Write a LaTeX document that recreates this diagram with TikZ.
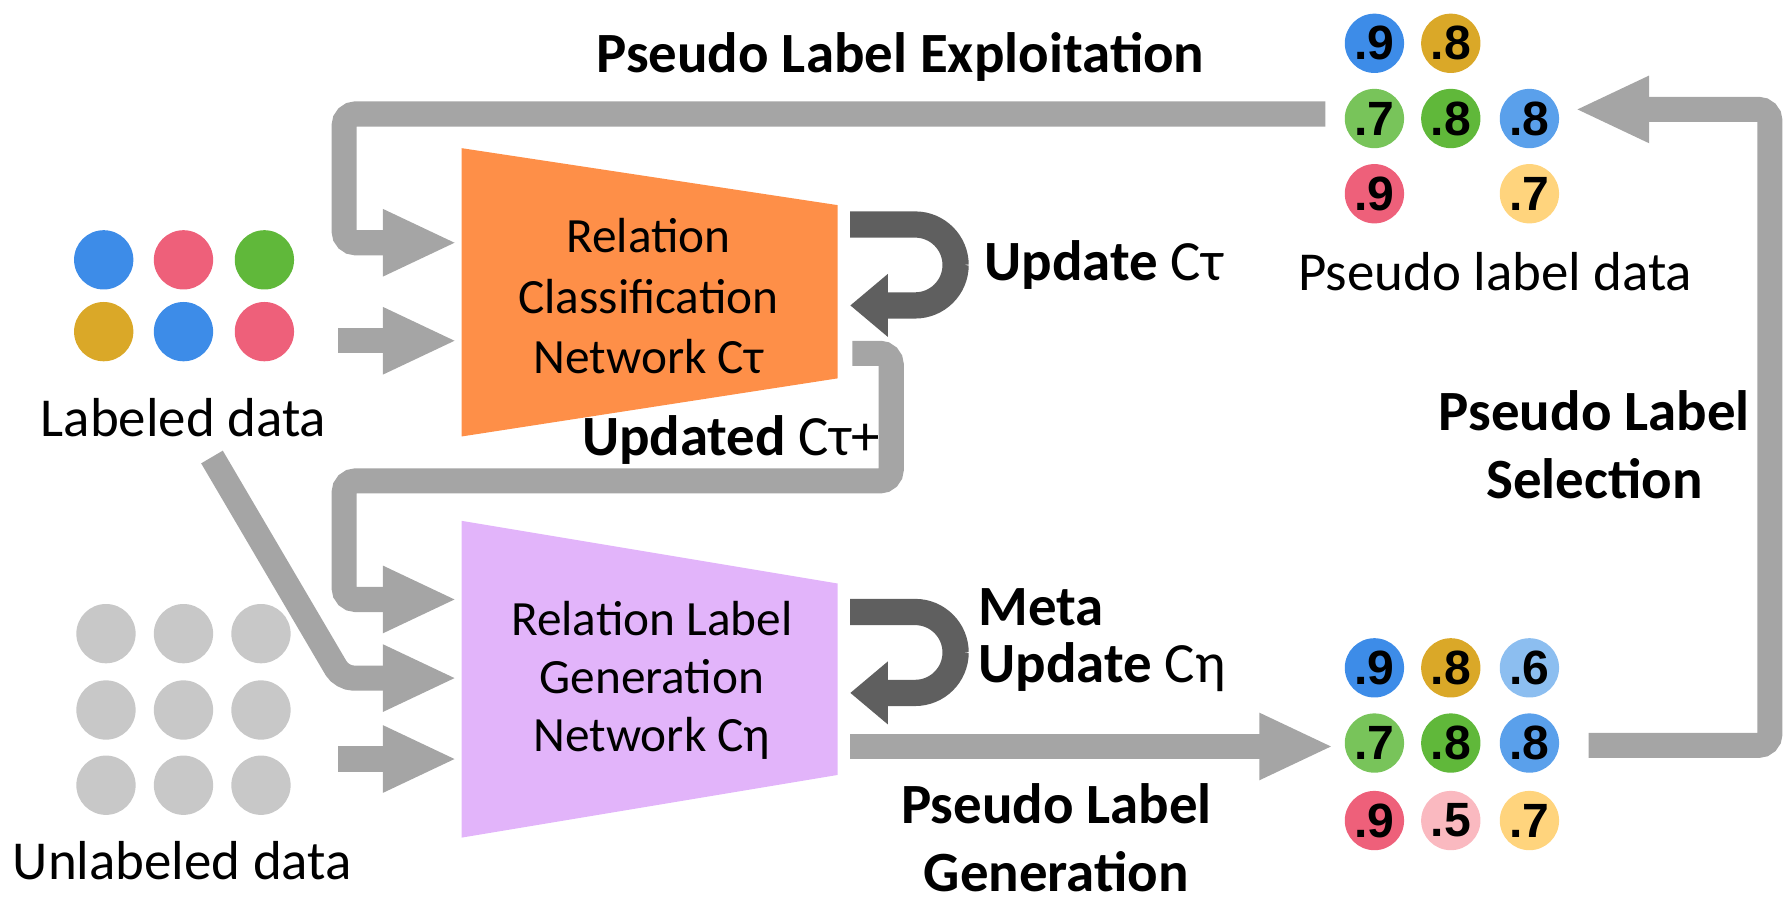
\documentclass[tikz,border=0pt]{standalone}
\usepackage{fontspec}
\setmainfont{Carlito}
\newfontfamily\numfont{Liberation Sans}
\usetikzlibrary{arrows.meta}

\definecolor{cblue}{RGB}{61,140,232}
\definecolor{cred}{RGB}{238,96,122}
\definecolor{cgreen}{RGB}{96,184,58}
\definecolor{cgold}{RGB}{218,168,40}
\definecolor{lgreen}{RGB}{120,196,90}
\definecolor{lblue}{RGB}{90,160,235}
\definecolor{pblue}{RGB}{140,190,240}
\definecolor{lpink}{RGB}{250,185,192}
\definecolor{lyellow}{RGB}{255,212,125}
\definecolor{ugray}{RGB}{200,200,200}
\definecolor{flowgray}{RGB}{165,165,165}
\definecolor{loopgray}{RGB}{95,95,95}
\definecolor{rcnorange}{RGB}{254,143,72}
\definecolor{rlgnpurple}{RGB}{226,180,250}

\tikzset{
  ball/.style={circle, minimum size=0.52cm, inner sep=0pt},
  num/.style={ball, font=\numfont\bfseries\fontsize{12}{12}\selectfont},
  flow/.style={draw=flowgray, line width=0.22cm, rounded corners=0.1cm,
    -{Triangle[length=0.65cm, width=0.54cm]}},
  updloop/.style={draw=loopgray, line width=0.23cm, rounded corners=0.355cm,
    -{Triangle[length=0.33cm, width=0.53cm]}},
  lbl/.style={inner sep=0pt, font=\fontsize{13.7}{16}\selectfont},
  boldlbl/.style={inner sep=0pt, font=\bfseries\fontsize{14.2}{17}\selectfont},
  netlbl/.style={inner sep=0pt, align=center, font=\fontsize{12.3}{15}\selectfont}
}

\begin{document}
\begin{tikzpicture}[x=0.01cm, y=0.01cm, yscale=-1]
    % canvas, 1568x791
    \useasboundingbox (0,0) rectangle (1568,791);

    % relation classification network
    \fill[rcnorange] (405,130) -- (735,180) -- (735,332) -- (405,383) -- cycle;
    \node[netlbl, font=\fontsize{12.3}{15.1}\selectfont] (rcn) at (569,260) {Relation\\Classification\\Network Cτ};
    % relation label generation network
    \fill[rlgnpurple] (405,457) -- (735,512) -- (735,680) -- (405,735) -- cycle;
    \node[netlbl, font=\fontsize{12.3}{14.5}\selectfont] (rlgn) at (572,597) {Relation Label\\Generation\\Network Cη};

    % labeled data
    \node[ball, fill=cblue] (l11) at (91,228) {};
    \node[ball, fill=cred] (l12) at (161,228) {};
    \node[ball, fill=cgreen] (l13) at (232,228) {};
    \node[ball, fill=cgold] (l21) at (91,291) {};
    \node[ball, fill=cblue] (l22) at (161,291) {};
    \node[ball, fill=cred] (l23) at (232,291) {};
    \node[lbl, anchor=base] (ld) at (161,383) {Labeled data};

    % unlabeled data
    \node[ball, fill=ugray] (u11) at (93,556) {};
    \node[ball, fill=ugray] (u12) at (161,556) {};
    \node[ball, fill=ugray] (u13) at (229,556) {};
    \node[ball, fill=ugray] (u21) at (93,623) {};
    \node[ball, fill=ugray] (u22) at (161,623) {};
    \node[ball, fill=ugray] (u23) at (229,623) {};
    \node[ball, fill=ugray] (u31) at (93,689) {};
    \node[ball, fill=ugray] (u32) at (161,689) {};
    \node[ball, fill=ugray] (u33) at (229,689) {};
    \node[lbl, anchor=base] (ud) at (160,772) {Unlabeled data};

    % pseudo label data (selected)
    \node[num, fill=cblue] (p11) at (1206,38) {.9};
    \node[num, fill=cgold] (p12) at (1273,38) {.8};
    \node[num, fill=lgreen] (p21) at (1206,104) {.7};
    \node[num, fill=cgreen] (p22) at (1273,104) {.8};
    \node[num, fill=lblue] (p23) at (1342,104) {.8};
    \node[num, fill=cred] (p31) at (1206,170) {.9};
    \node[num, fill=lyellow] (p33) at (1342,170) {.7};
    \node[lbl, anchor=base] (pld) at (1312,255) {Pseudo label data};

    % generated pseudo labels
    \node[num, fill=cblue] (g11) at (1206,586) {.9};
    \node[num, fill=cgold] (g12) at (1273,586) {.8};
    \node[num, fill=pblue] (g13) at (1342,586) {.6};
    \node[num, fill=lgreen] (g21) at (1206,652) {.7};
    \node[num, fill=cgreen] (g22) at (1273,652) {.8};
    \node[num, fill=lblue] (g23) at (1342,652) {.8};
    \node[num, fill=cred] (g31) at (1206,720) {.9};
    \node[num, fill=lpink] (g32) at (1273,720) {.5};
    \node[num, fill=lyellow] (g33) at (1342,720) {.7};

    % arrow ends
    \coordinate (expl-out) at (1163,100);
    \coordinate (rcn-in1) at (401,213);
    \coordinate (ld-out1) at (297,299);
    \coordinate (rcn-in2) at (401,299);
    \coordinate (rcn-out1) at (746,197);
    \coordinate (rcn-back) at (746,268);
    \coordinate (rcn-out2) at (748,310);
    \coordinate (rlgn-in1) at (401,526);
    \coordinate (ld-out2) at (186,401);
    \coordinate (rlgn-in2) at (401,595);
    \coordinate (ud-out) at (297,666);
    \coordinate (rlgn-in3) at (401,666);
    \coordinate (rlgn-out1) at (746,537);
    \coordinate (rlgn-back) at (746,608);
    \coordinate (rlgn-out2) at (746,655);
    \coordinate (gen-in) at (1170,655);
    \coordinate (gen-out) at (1394,654);
    \coordinate (sel-in) at (1382,96);

    % pseudo label exploitation
    \draw[flow] (expl-out) -- (302,100) -- (302,213) -- (rcn-in1);
    \node[boldlbl, anchor=base] (expl) at (790,64) {Pseudo Label Exploitation};
    % labeled data into both networks
    \draw[flow] (ld-out1) -- (rcn-in2);
    \draw[flow] (ld-out2) -- (300,595) -- (rlgn-in2);
    % unlabeled data
    \draw[flow] (ud-out) -- (rlgn-in3);
    % update C tau
    \draw[updloop] (rcn-out1) -- (838.5,197) -- (838.5,268) -- (rcn-back);
    \node[boldlbl, anchor=base west] (upd) at (863,246) {Update {\mdseries Cτ}};
    % updated C tau+
    \draw[flow] (rcn-out2) -- (782,310) -- (782,422) -- (302,422) -- (302,526) -- (rlgn-in1);
    \node[boldlbl, anchor=base west] (updd) at (510,400) {Updated {\mdseries Cτ+}};
    % meta update C eta
    \draw[updloop] (rlgn-out1) -- (838.5,537) -- (838.5,608) -- (rlgn-back);
    \node[boldlbl, align=left, anchor=west, font=\bfseries\fontsize{14.2}{14.2}\selectfont] (meta) at (858,562) {Meta\\Update {\mdseries Cη}};
    % pseudo label generation
    \draw[flow] (rlgn-out2) -- (gen-in);
    \node[boldlbl, align=center] (gen) at (927,735) {Pseudo Label\\Generation};
    % pseudo label selection
    \draw[flow] (gen-out) -- (1553,654) -- (1553,96) -- (sel-in);
    \node[boldlbl, align=center] (sel) at (1399,390) {Pseudo Label\\Selection};
\end{tikzpicture}
\end{document}
